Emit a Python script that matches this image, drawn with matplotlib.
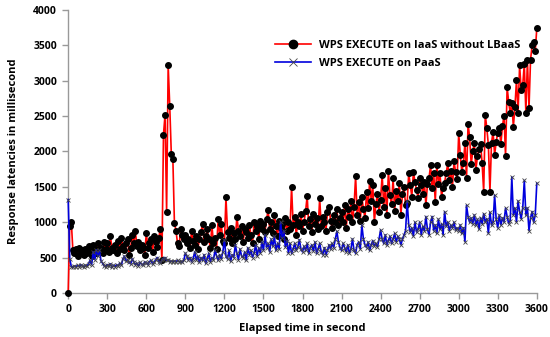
import numpy as np
import matplotlib
matplotlib.use('Agg')
import matplotlib.pyplot as plt

plt.rcParams['font.family'] = ['Open Sans', 'DejaVu Sans']
plt.rcParams['font.weight'] = 'bold'

# time axis: one sample every 12 seconds
t = np.arange(0, 3601, 12)

# IaaS without LBaaS (ms)
iaas = [
    0, 950, 1000, 600, 560, 620, 520, 640, 580, 600, 540, 620, 560, 660, 600, 520, 680, 620, 560, 700, 600, 640, 560, 720, 620,
    700, 580, 800, 640, 600, 680, 560, 740, 620, 780, 660, 600, 700, 760, 540, 640, 820, 700, 870, 660, 720, 600, 680, 640, 540,
    850, 640, 700, 760, 580, 800, 720, 650, 780, 910, 460, 2240, 2520, 1150, 3220, 2650, 1970, 1900, 990, 880, 700, 660, 900, 820, 760,
    820, 700, 760, 640, 880, 740, 680, 800, 620, 760, 860, 980, 720, 800, 900, 760, 640, 960, 700, 780, 620, 1050, 820, 970, 740,
    700, 1350, 860, 780, 920, 700, 840, 760, 1080, 880, 800, 940, 720, 900, 860, 780, 960, 820, 700, 1000, 880, 940, 760, 1020, 900,
    980, 860, 1040, 1170, 900, 1000, 840, 1100, 950, 800, 1020, 920, 980, 760, 1060, 880, 1000, 900, 1500, 960, 1080, 820, 1000, 940, 1120,
    880, 1000, 1160, 1370, 940, 1040, 860, 1120, 980, 1060, 900, 1340, 940, 1080, 1000, 880, 1140, 1210, 1020, 920, 1100, 1000, 1180, 960, 1060,
    1140, 1000, 1240, 920, 1180, 1080, 1300, 1000, 1220, 1650, 1100, 1280, 1020, 1360, 1180, 1060, 1420, 1200, 1580, 1300, 1520, 1000, 1260, 1400, 1140,
    1320, 1670, 1220, 1480, 1100, 1730, 1380, 1250, 1620, 1160, 1440, 1300, 1560, 1100, 1400, 1500, 1240, 1270, 1690, 1530, 1360, 1710, 1570, 1450, 1340,
    1620, 1530, 1400, 1570, 1240, 1540, 1620, 1810, 1480, 1690, 1290, 1810, 1540, 1700, 1360, 1480, 1560, 1700, 1830, 1600, 1720, 1500, 1860, 1710, 1610,
    2260, 1950, 1710, 1830, 2120, 1620, 2390, 2200, 1820, 2000, 2120, 1740, 1930, 2040, 2110, 1830, 1430, 2520, 2330, 2090, 1430, 2120, 2280, 1950, 2140,
    2260, 2330, 2100, 2360, 2500, 1930, 2910, 2700, 2540, 2680, 2350, 2630, 3010, 2550, 3220, 2870, 2940, 3240, 2550, 3290, 2610, 3300, 3500, 3550, 3420,
    3740,
]

# PaaS (ms)
paas = [
    1320, 480, 370, 360, 380, 370, 390, 370, 400, 380, 360, 390, 380, 410, 460, 400, 580, 470, 610, 520, 600, 450, 420, 380, 370,
    400, 380, 410, 360, 390, 370, 400, 380, 420, 390, 480, 520, 450, 470, 430, 410, 480, 440, 400, 420, 380, 430, 410, 390, 440,
    420, 400, 440, 460, 410, 430, 470, 500, 440, 420, 460, 480, 500, 460, 470, 440, 450, 440, 450, 440, 460, 440, 450, 430, 460,
    560, 520, 460, 500, 440, 480, 580, 470, 520, 430, 500, 460, 540, 420, 480, 560, 440, 500, 470, 600, 520, 460, 540, 480, 580,
    750, 520, 480, 600, 450, 540, 500, 680, 560, 470, 620, 520, 500, 580, 460, 640, 540, 600, 500, 560, 680, 520, 640, 560, 720,
    600, 820, 640, 700, 580, 760, 660, 800, 600, 700, 620, 1000, 780, 880, 650, 740, 560, 700, 560, 620, 700, 600, 650, 750, 620,
    580, 660, 600, 700, 560, 640, 680, 590, 720, 560, 620, 700, 580, 540, 640, 540, 600, 680, 620, 700, 640, 760, 870, 720, 640,
    600, 700, 640, 580, 680, 560, 620, 760, 600, 560, 680, 720, 620, 960, 760, 680, 640, 720, 600, 680, 740, 660, 700, 650, 760,
    890, 760, 700, 820, 680, 740, 800, 700, 760, 840, 720, 800, 760, 680, 760, 820, 880, 1300, 960, 860, 920, 800, 1000, 860, 900,
    1000, 820, 940, 880, 1080, 900, 820, 1000, 1080, 880, 960, 840, 1040, 900, 980, 820, 1150, 940, 1000, 880, 960, 920, 1000, 890, 920,
    880, 960, 840, 920, 725, 1240, 1080, 1000, 1060, 980, 1100, 960, 1040, 900, 1060, 980, 1120, 1000, 1050, 840, 1140, 960, 1000, 1380, 1040,
    920, 1100, 960, 1060, 1000, 1200, 1080, 980, 1020, 1640, 1100, 1200, 1000, 1300, 1150, 1050, 1200, 1590, 1100, 1200, 880, 1060, 1150, 1000, 1100,
    1550,
]

fig = plt.figure(figsize=(5.5, 3.37), dpi=100)
ax = fig.add_axes([0.124, 0.131, 0.852, 0.839])

ax.plot(t, iaas, color='#ff0000', lw=1.2, marker='o', ms=4, mfc='black', mec='black',
        label='WPS EXECUTE on IaaS without LBaaS', clip_on=False, zorder=3)
ax.plot(t, paas, color='#0000dd', lw=1.2, marker='x', ms=3, mew=0.6, mec='#444444',
        label='WPS EXECUTE on PaaS', clip_on=False, zorder=4)

ax.set_xlim(0, 3600)
ax.set_ylim(0, 4000)
ax.set_xticks(np.arange(0, 3601, 300))
ax.set_yticks(np.arange(0, 4001, 500))

for s in ['top', 'right']:
    ax.spines[s].set_visible(False)
for s in ['left', 'bottom']:
    ax.spines[s].set_color('#999999')
    ax.spines[s].set_linewidth(1.0)
ax.tick_params(direction='out', length=4, width=1, color='#999999', labelsize=7.5, pad=4)

ax.set_xlabel('Elapsed time in second', fontsize=8, fontweight='bold', labelpad=6)
ax.set_ylabel('Response latencies in millisecond', fontsize=8, fontweight='bold', labelpad=10)

leg = ax.legend(loc='upper left', bbox_to_anchor=(0.42, 0.93), frameon=False, fontsize=8,
                handlelength=3.2, labelspacing=0.6)
for h in leg.legend_handles:
    h.set_markersize(6)

fig.savefig('out.png', dpi=100)
